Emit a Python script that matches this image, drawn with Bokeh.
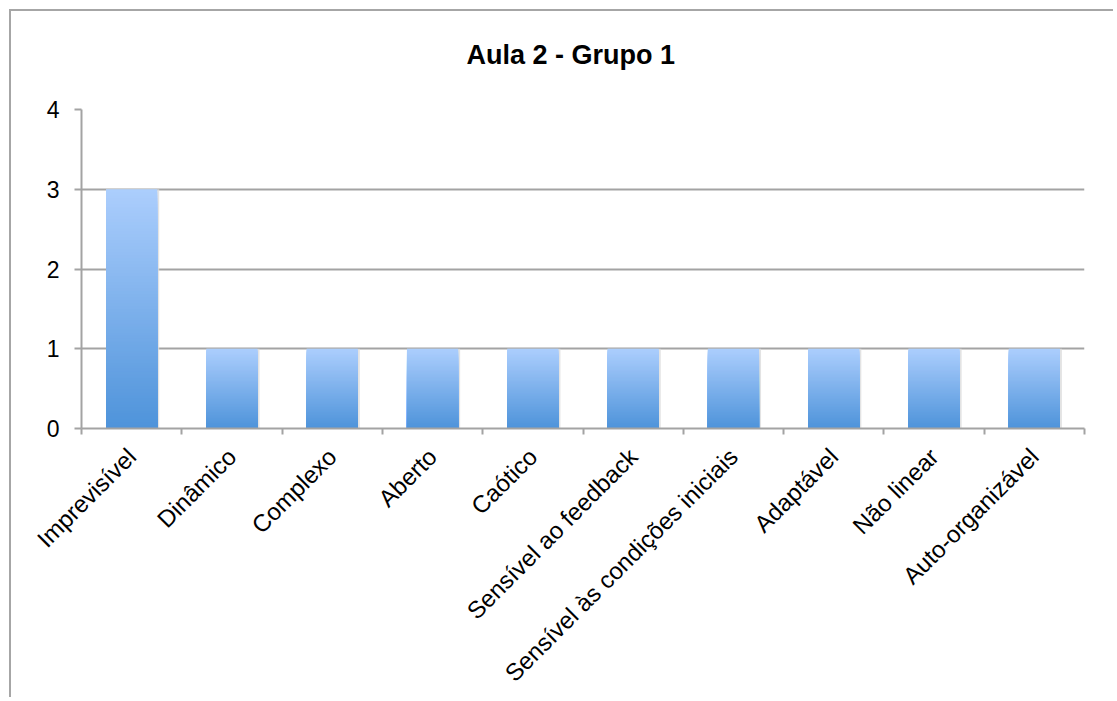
import numpy as np
from bokeh.plotting import figure
from bokeh.models import Range1d, FixedTicker, Title
from bokeh.embed import file_html
from bokeh.resources import INLINE

title = "Aula 2 - Grupo 1"
categories = ["Imprevisível", "Dinâmico", "Complexo", "Aberto", "Caótico",
              "Sensível ao feedback", "Sensível às condições iniciais",
              "Adaptável", "Não linear", "Auto-organizável"]
values = [3, 1, 1, 1, 1, 1, 1, 1, 1, 1]
y_ticks = [0, 1, 2, 3, 4]

FONT = "Liberation Sans"
GRID = "#a3a3a3"
TOP_RGB = np.array([172, 206, 253])
BOT_RGB = np.array([78, 147, 218])

p = figure(width=1104, height=688, output_backend="svg", toolbar_location=None,
           x_range=Range1d(0, len(categories)), y_range=Range1d(0, max(y_ticks)),
           min_border_left=70, min_border_right=31, min_border_top=98, min_border_bottom=269,
           background_fill_color="white", border_fill_color="white")
p.styles = {"margin-left": "9px", "margin-top": "9px",
            "border-left": "2px solid #a6a6a6", "border-top": "2px solid #a6a6a6"}
p.outline_line_color = None

p.title.text = title
p.title.align = "left"
p.title.offset = 385
p.title.text_font = FONT
p.title.text_font_size = "27px"
p.title.text_font_style = "bold"
p.title.text_color = "black"
p.title.standoff = 10

# spacer between the title and the plot area
p.add_layout(Title(text=" ", text_font_size="10px", standoff=22), "above")

# gradient bars: overlapping strips all starting at 0 (no seams)
N = 80
lefts, rights, tops, colors = [], [], [], []
sh_l, sh_r, sh_t = [], [], []
for i, v in enumerate(values):
    c = i + 0.5
    for k in range(N):
        frac = (N - k) / N
        lefts.append(c - 0.255)
        rights.append(c + 0.255)
        tops.append(v * frac)
        t = (N - k - 0.5) / N
        rgb = BOT_RGB + (TOP_RGB - BOT_RGB) * t
        colors.append("#%02x%02x%02x" % tuple(int(round(x)) for x in rgb))
    sh_l.append(c - 0.255)
    sh_r.append(c + 0.275)
    sh_t.append(v)

p.quad(left=sh_l, right=sh_r, bottom=0, top=sh_t, fill_color="#dcdcdc",
       line_color=None, fill_alpha=0.8)
p.quad(left=lefts, right=rights, bottom=0, top=tops, fill_color=colors,
       line_color=None)

# axes
p.yaxis.ticker = FixedTicker(ticks=y_ticks)
p.yaxis.axis_line_color = GRID
p.yaxis.axis_line_width = 2
p.yaxis.major_tick_line_color = GRID
p.yaxis.major_tick_line_width = 2
p.yaxis.major_tick_out = 7
p.yaxis.major_tick_in = 0
p.yaxis.minor_tick_line_color = None
p.yaxis.major_label_text_font = FONT
p.yaxis.major_label_text_font_size = "23px"
p.yaxis.major_label_text_color = "black"
p.yaxis.major_label_standoff = 15

centers = [i + 0.5 for i in range(len(categories))]
bounds = list(range(len(categories) + 1))
p.xaxis.ticker = FixedTicker(ticks=centers, minor_ticks=bounds)
p.xaxis.major_label_overrides = {c: lab for c, lab in zip(centers, categories)}
p.xaxis.axis_line_color = GRID
p.xaxis.axis_line_width = 2
p.xaxis.major_tick_line_color = None
p.xaxis.major_tick_out = 0
p.xaxis.major_tick_in = 0
p.xaxis.minor_tick_line_color = GRID
p.xaxis.minor_tick_line_width = 2
p.xaxis.minor_tick_out = 6
p.xaxis.minor_tick_in = 0
p.xaxis.major_label_orientation = np.pi / 4
p.xaxis.major_label_text_font = FONT
p.xaxis.major_label_text_font_size = "24px"
p.xaxis.major_label_text_color = "black"
p.xaxis.major_label_standoff = 18

p.xgrid.grid_line_color = None
p.ygrid.ticker = FixedTicker(ticks=y_ticks)
p.ygrid.grid_line_color = GRID
p.ygrid.grid_line_width = 2

open("out.html", "w").write(file_html(p, INLINE))
